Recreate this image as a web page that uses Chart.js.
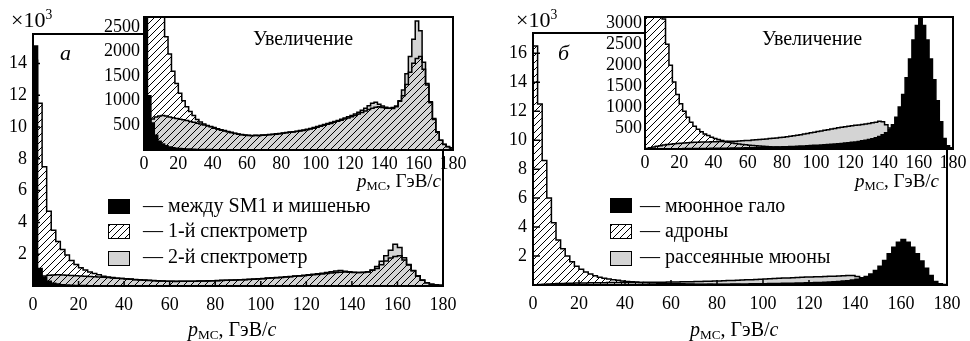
<!DOCTYPE html>
<html>
<head>
<meta charset="utf-8">
<script src="https://cdn.jsdelivr.net/npm/chart.js@4.4.1/dist/chart.umd.min.js"></script>
<style>
  html, body { margin: 0; padding: 0; background: #fff; }
  #fig { position: relative; width: 970px; height: 341px; overflow: hidden; font-family: 'Liberation Serif', serif; color: #000; }
  #fig canvas { position: absolute; top: 0; }
  .t { position: absolute; white-space: nowrap; line-height: 1; font-size: 20px; }
  .t sub { font-size: 0.66em; vertical-align: -0.22em; font-style: normal; }
  .t sup { font-size: 0.62em; vertical-align: 0.55em; }
  .box { position: absolute; width: 22px; height: 15px; border: 1px solid #000; box-sizing: border-box; }
  .b-black { background: #000; }
  .b-hatch { background: repeating-linear-gradient(135deg, #000 0 1px, #fff 1px 5px); }
  .b-gray { background: #d4d4d4; }
</style>
</head>
<body>
<div id="fig">
  <canvas id="mainL" width="485" height="341" style="left:0"></canvas>
  <canvas id="mainR" width="485" height="341" style="left:485px"></canvas>
  <canvas id="insetL" width="380" height="180" style="left:95px"></canvas>
  <canvas id="insetR" width="375" height="180" style="left:595px"></canvas>

  <div class="t" style="left:11px; top:8px; font-size:22px">×10<sup>3</sup></div>
  <div class="t" style="left:60px; top:42px; font-size:22px"><i>а</i></div>
  <div class="t" style="left:253px; top:28px">Увеличение</div>
  <div class="t" style="left:357px; top:171px; font-size:19px"><i>p</i><sub>MC</sub>, ГэВ/<i>c</i></div>
  <div class="t" style="left:188px; top:319px"><i>p</i><sub>MC</sub>, ГэВ/<i>c</i></div>
  <div class="box b-black" style="left:108px; top:199px"></div>
  <div class="box b-hatch" style="left:108px; top:224px"></div>
  <div class="box b-gray" style="left:108px; top:251px"></div>
  <div class="t" style="left:143px; top:195px">— между SM1 и мишенью</div>
  <div class="t" style="left:143px; top:220px">— 1-й спектрометр</div>
  <div class="t" style="left:143px; top:246px">— 2-й спектрометр</div>

  <div class="t" style="left:516px; top:8px; font-size:22px">×10<sup>3</sup></div>
  <div class="t" style="left:558px; top:42px; font-size:22px"><i>б</i></div>
  <div class="t" style="left:762px; top:28px">Увеличение</div>
  <div class="t" style="left:855px; top:171px; font-size:19px"><i>p</i><sub>MC</sub>, ГэВ/<i>c</i></div>
  <div class="t" style="left:690px; top:319px"><i>p</i><sub>MC</sub>, ГэВ/<i>c</i></div>
  <div class="box b-black" style="left:610px; top:198px"></div>
  <div class="box b-hatch" style="left:610px; top:224px"></div>
  <div class="box b-gray" style="left:610px; top:251px"></div>
  <div class="t" style="left:640px; top:195px">— мюонное гало</div>
  <div class="t" style="left:640px; top:220px">— адроны</div>
  <div class="t" style="left:640px; top:246px">— рассеянные мюоны</div>
</div>
<script>
// histogram bins, 2 GeV/c wide, starting at 0
const binWidth = 2;
const xTicks = [0, 20, 40, 60, 80, 100, 120, 140, 160, 180];

// panel a: between SM1 and target / 1st spectrometer / 2nd spectrometer
const leftTarget = [
  15100, 1100, 550, 300, 180, 120, 85, 62, 46, 36,
  30, 25, 20, 18, 15, 12, 10, 10, 8, 8,
  6, 6, 5, 5, 4, 4, 3, 3, 3, 2,
  2, 2, 2, 2, 2, 1, 1, 1, 1, 1,
  1, 1, 1, 1, 1, 1, 1, 1, 1, 1,
  1, 1, 1, 1, 1, 1, 1, 1, 1, 1,
  1, 1, 1, 1, 1, 1, 1, 1, 1, 1,
  1, 1, 1, 1, 1, 1, 1, 1, 1, 1,
  1, 1, 1, 1, 0, 0, 0, 0, 0, 0
];
const leftSpec1 = [
  14200, 11500, 7500, 4700, 3500, 2800, 2300, 1950, 1600, 1350,
  1150, 1000, 880, 780, 700, 620, 570, 530, 495, 470,
  440, 420, 400, 385, 368, 350, 336, 322, 310, 300,
  293, 290, 294, 291, 297, 302, 308, 314, 322, 330,
  338, 348, 358, 366, 376, 388, 398, 412, 428, 444,
  462, 482, 500, 522, 540, 562, 585, 606, 628, 652,
  676, 702, 730, 762, 792, 822, 850, 868, 880, 865,
  850, 850, 865, 895, 990, 1100, 1330, 1580, 1760, 1860,
  1900, 1640, 1320, 980, 640, 370, 200, 110, 65, 40
];
const leftSpec2 = [
  420, 560, 630, 670, 690, 700, 690, 672, 656, 640,
  626, 612, 598, 580, 562, 545, 528, 510, 492, 475,
  455, 433, 412, 394, 376, 358, 342, 327, 314, 304,
  299, 296, 301, 297, 303, 306, 313, 319, 329, 337,
  346, 356, 366, 373, 383, 396, 406, 421, 439, 456,
  476, 496, 516, 536, 556, 579, 601, 626, 651, 676,
  702, 732, 765, 805, 850, 900, 950, 970, 930, 895,
  870, 850, 845, 880, 1000, 1220, 1550, 1900, 2250, 2620,
  2420, 1780, 1350, 960, 620, 360, 200, 115, 72, 45
];

// panel б: muon halo / hadrons / scattered muons
const rightHalo = [
  0, 0, 2, 3, 4, 5, 6, 6, 7, 8,
  8, 9, 10, 10, 11, 12, 12, 13, 14, 15,
  16, 17, 18, 19, 20, 21, 22, 24, 25, 27,
  28, 30, 32, 34, 36, 38, 40, 43, 46, 49,
  52, 55, 58, 62, 66, 70, 74, 78, 82, 87,
  92, 97, 102, 108, 114, 120, 127, 134, 142, 150,
  160, 170, 180, 195, 210, 225, 245, 270, 300, 340,
  390, 470, 580, 760, 1000, 1300, 1700, 2150, 2600, 2950,
  3150, 2950, 2600, 2150, 1650, 1150, 650, 250, 80, 30
];
const rightHadrons = [
  16500, 12500, 8600, 6000, 4300, 3100, 2500, 2000, 1600, 1300,
  1080, 900, 760, 640, 540, 470, 410, 360, 320, 280,
  250, 225, 200, 180, 160, 145, 130, 118, 108, 100,
  92, 85, 78, 72, 66, 60, 55, 50, 46, 42,
  38, 35, 32, 29, 26, 24, 22, 20, 18, 16,
  15, 14, 13, 12, 11, 10, 9, 8, 7, 6,
  6, 5, 5, 4, 4, 3, 3, 3, 2, 2,
  2, 2, 1, 1, 1, 1, 1, 1, 0, 0,
  0, 0, 0, 0, 0, 0, 0, 0, 0, 0
];
const rightScattered = [
  10, 30, 50, 65, 80, 95, 105, 115, 125, 132,
  140, 146, 151, 155, 159, 162, 165, 168, 170, 172,
  174, 176, 178, 180, 182, 184, 187, 191, 195, 200,
  205, 212, 218, 225, 232, 240, 248, 256, 265, 274,
  283, 293, 303, 315, 328, 342, 356, 370, 385, 400,
  415, 430, 445, 460, 475, 490, 505, 520, 532, 545,
  555, 565, 575, 585, 598, 610, 625, 640, 660, 650,
  580, 500, 420, 350, 290, 230, 180, 140, 105, 80,
  60, 45, 35, 25, 18, 12, 8, 5, 3, 2
];

const yTicksMainL = [2000, 4000, 6000, 8000, 10000, 12000, 14000];
const yTicksMainR = [2000, 4000, 6000, 8000, 10000, 12000, 14000, 16000];
const yTicksInsetL = [500, 1000, 1500, 2000, 2500];
const yTicksInsetR = [500, 1000, 1500, 2000, 2500, 3000];

const tickFont = { family: 'Liberation Serif', size: 18 };

function makeHatch() {
  const s = 7;
  const c = document.createElement('canvas');
  c.width = s; c.height = s;
  const g = c.getContext('2d');
  g.strokeStyle = '#000';
  g.lineWidth = 1;
  g.beginPath();
  g.moveTo(0, s); g.lineTo(s, 0);
  g.moveTo(-1, 1); g.lineTo(1, -1);
  g.moveTo(s - 1, s + 1); g.lineTo(s + 1, s - 1);
  g.stroke();
  return g.createPattern(c, 'repeat');
}
const hatch = makeHatch();

// each bin becomes a flat top from its left edge to its right edge
function steps(values) {
  const pts = [];
  values.forEach((v, i) => {
    pts.push({ x: i * binWidth, y: v });
    pts.push({ x: (i + 1) * binWidth, y: v });
  });
  return pts;
}

function histSets(black, hatched, gray) {
  return [
    { data: steps(black), backgroundColor: '#000' },
    { data: steps(hatched), backgroundColor: hatch },
    { data: steps(gray), backgroundColor: '#d4d4d4' }
  ].map(d => Object.assign({
    fill: 'origin', borderColor: '#000', borderWidth: 1.5, borderJoinStyle: 'miter',
    pointRadius: 0, tension: 0, clip: 0
  }, d));
}

// white plot area for the insets, frame and inward ticks
const framePlugin = {
  id: 'frame',
  beforeDraw(chart, args, opts) {
    if (!opts.white) return;
    const a = chart.chartArea;
    const ctx = chart.ctx;
    ctx.save();
    ctx.fillStyle = '#fff';
    ctx.fillRect(a.left, a.top, a.right - a.left, a.bottom - a.top);
    ctx.restore();
  },
  afterDatasetsDraw(chart, args, opts) {
    const { ctx, chartArea: a, scales } = chart;
    ctx.save();
    ctx.strokeStyle = '#000';
    ctx.lineWidth = 2;
    ctx.strokeRect(a.left, a.top, a.right - a.left, a.bottom - a.top);
    if (opts.tick) {
      ctx.lineWidth = 1.5;
      ctx.beginPath();
      scales.x.ticks.forEach(t => {
        const px = scales.x.getPixelForValue(t.value);
        ctx.moveTo(px, a.bottom); ctx.lineTo(px, a.bottom - opts.tick);
      });
      scales.y.ticks.forEach(t => {
        const py = scales.y.getPixelForValue(t.value);
        ctx.moveTo(a.left, py); ctx.lineTo(a.left + opts.tick + 2, py);
      });
      ctx.stroke();
    }
    ctx.restore();
  }
};

function makeChart(id, sets, cfg) {
  return new Chart(document.getElementById(id), {
    type: 'line',
    data: { datasets: sets },
    plugins: [framePlugin],
    options: {
      responsive: false,
      animation: false,
      events: [],
      layout: { padding: cfg.padding },
      plugins: {
        legend: { display: false },
        tooltip: { enabled: false },
        frame: { white: cfg.white, tick: cfg.tick }
      },
      scales: {
        x: {
          type: 'linear', min: 0, max: 180,
          grid: { display: false, drawTicks: false },
          border: { display: false },
          afterBuildTicks: s => { s.ticks = xTicks.map(v => ({ value: v })); },
          afterFit: s => { s.height = cfg.xHeight; },
          ticks: { font: tickFont, color: '#000', padding: cfg.xPad, maxRotation: 0, autoSkip: false }
        },
        y: {
          type: 'linear', min: 0, max: cfg.yMax,
          grid: { display: false, drawTicks: false },
          border: { display: false },
          afterBuildTicks: s => { s.ticks = cfg.yTicks.map(v => ({ value: v })); },
          afterFit: s => { s.width = cfg.yWidth; },
          ticks: {
            font: tickFont, color: '#000', padding: cfg.yPad, autoSkip: false,
            callback: v => cfg.thousands ? String(v / 1000) : String(v)
          }
        }
      }
    }
  });
}

makeChart('mainL', histSets(leftTarget, leftSpec1, leftSpec2), {
  padding: { left: 0, top: 34, right: 42, bottom: 0 },
  yMax: 15850, yTicks: yTicksMainL, thousands: true,
  yWidth: 33, xHeight: 55, xPad: 8, yPad: 6, tick: 5, white: false
});
makeChart('mainR', histSets(rightHalo, rightHadrons, rightScattered), {
  padding: { left: 0, top: 33, right: 23, bottom: 0 },
  yMax: 17400, yTicks: yTicksMainR, thousands: true,
  yWidth: 48, xHeight: 56, xPad: 8, yPad: 6, tick: 5, white: false
});
makeChart('insetL', histSets(leftTarget, leftSpec1, leftSpec2), {
  padding: { left: 0, top: 17, right: 22, bottom: 0 },
  yMax: 2700, yTicks: yTicksInsetL, thousands: false,
  yWidth: 49, xHeight: 30, xPad: 3, yPad: 4, tick: 0, white: true
});
makeChart('insetR', histSets(rightHalo, rightHadrons, rightScattered), {
  padding: { left: 0, top: 17, right: 17, bottom: 0 },
  yMax: 3150, yTicks: yTicksInsetR, thousands: false,
  yWidth: 50, xHeight: 31, xPad: 3, yPad: 3, tick: 0, white: true
});
</script>
</body>
</html>
